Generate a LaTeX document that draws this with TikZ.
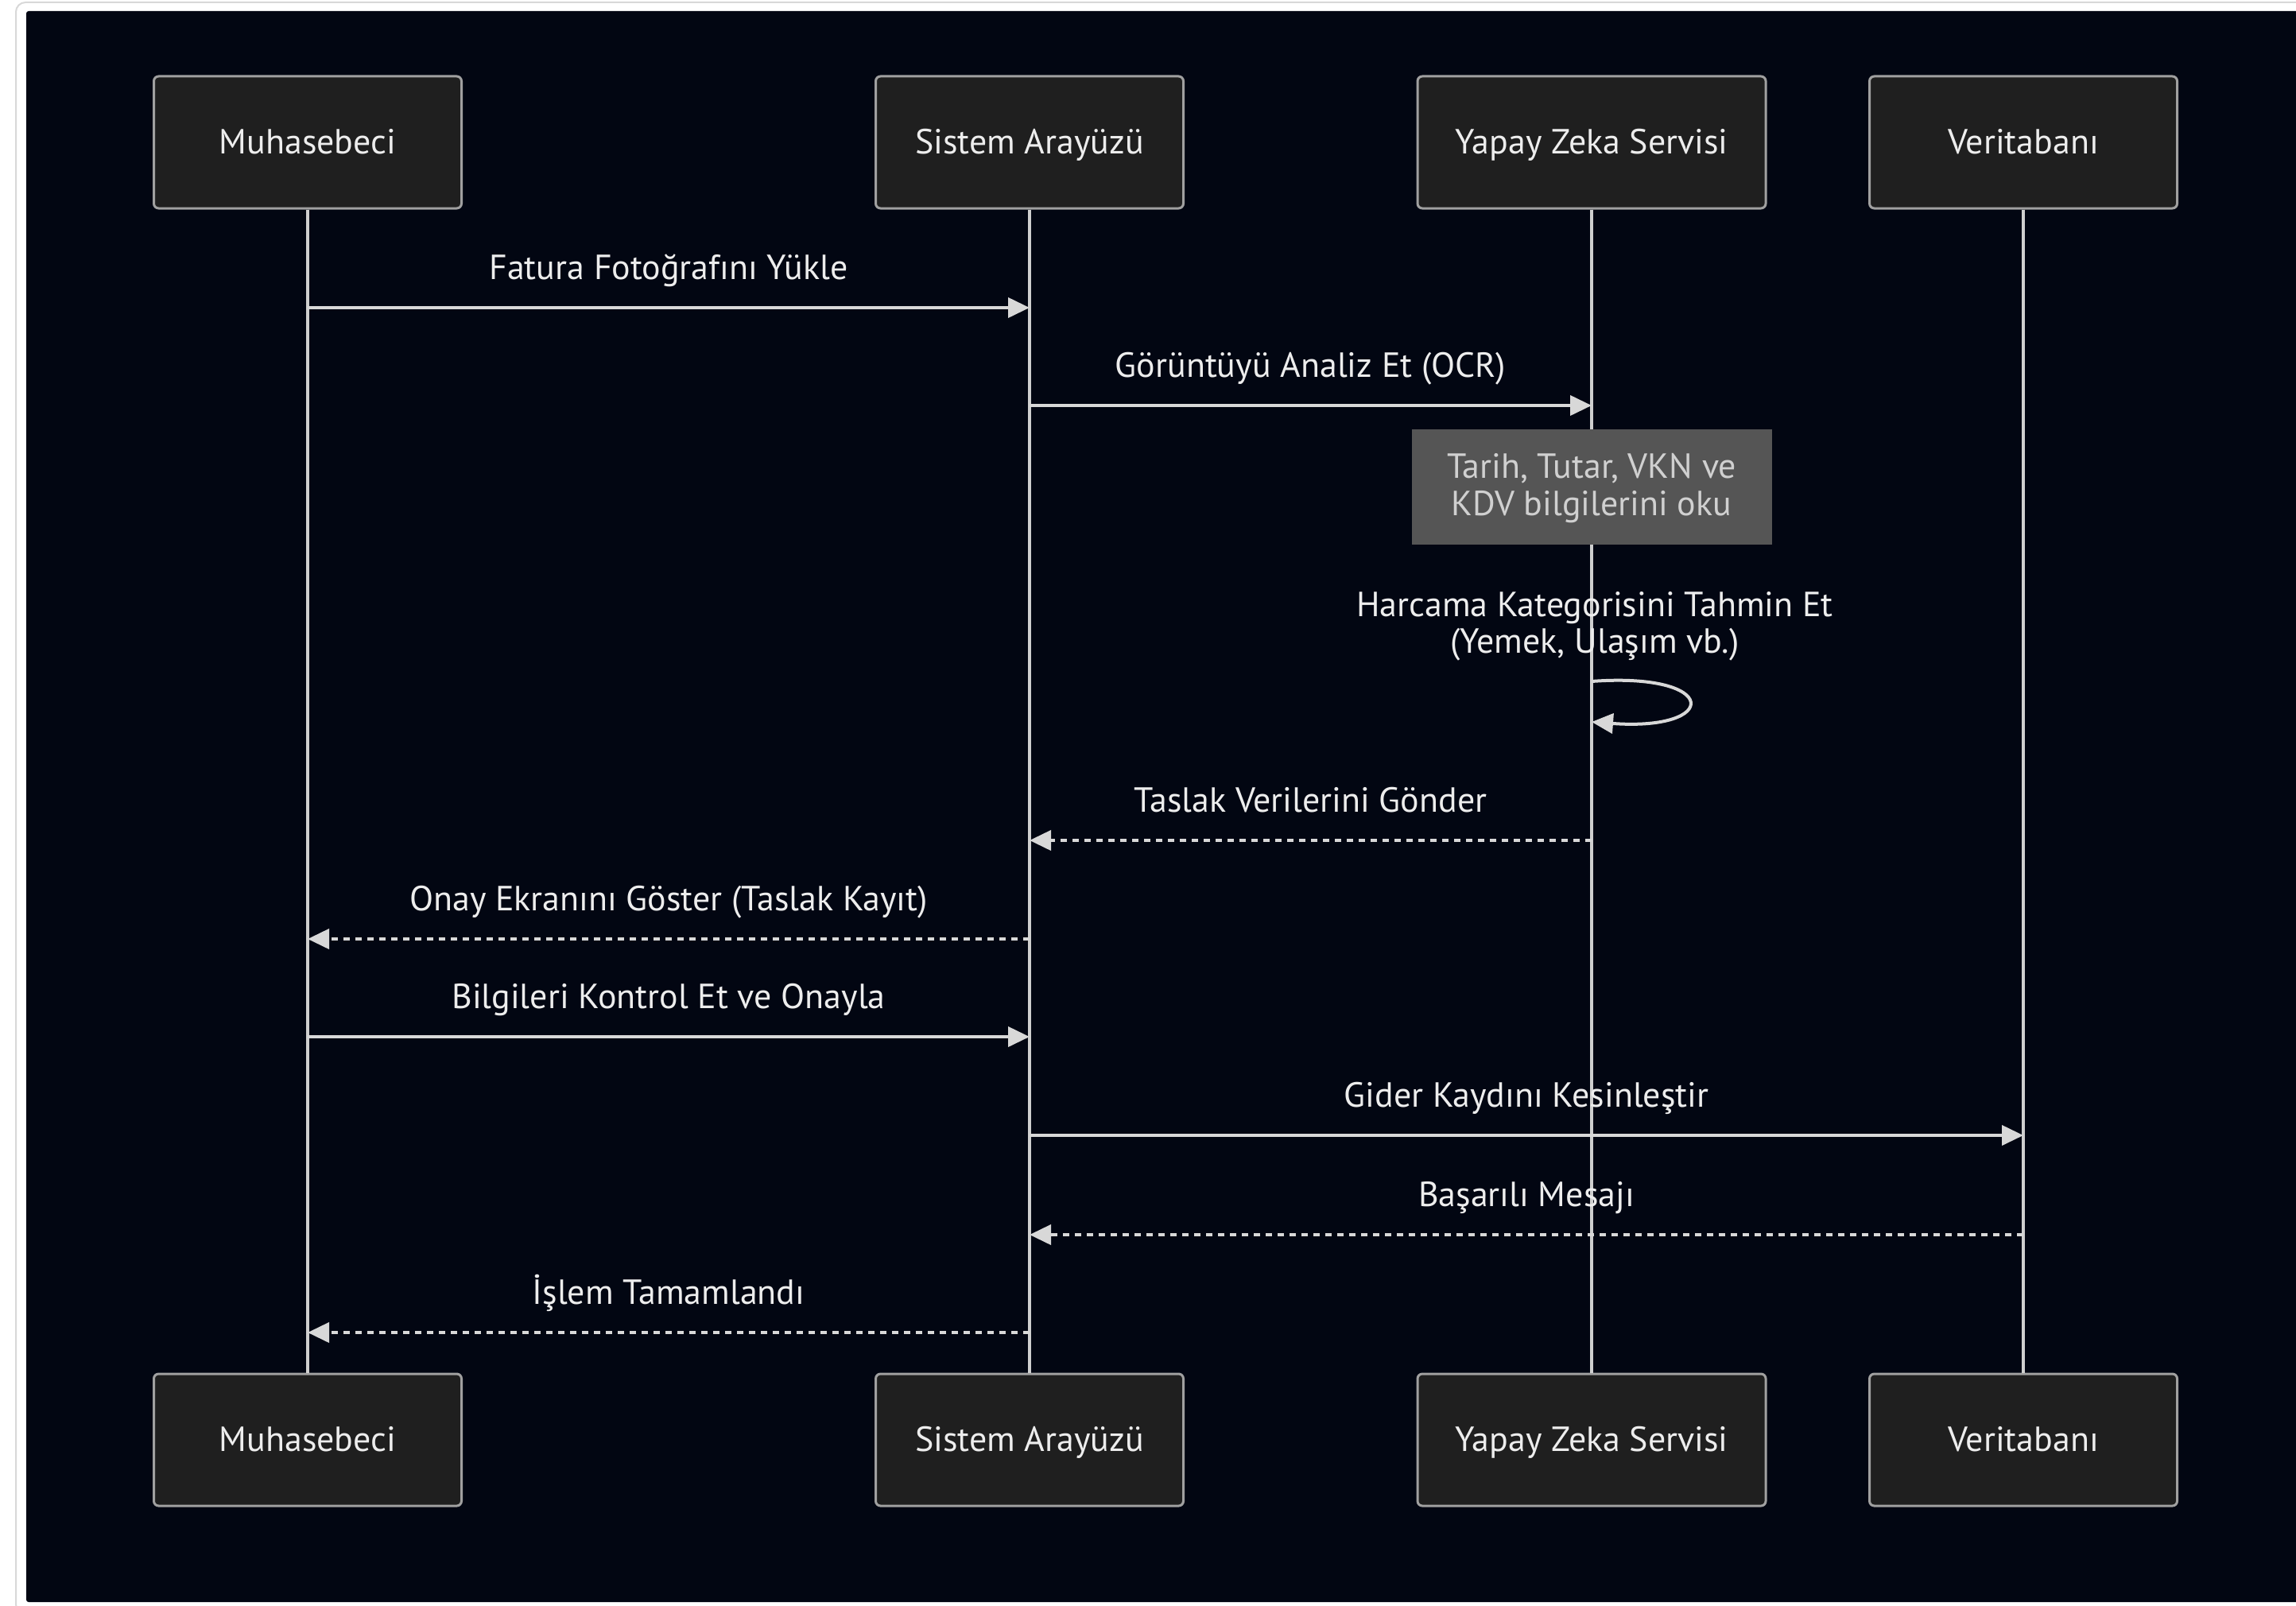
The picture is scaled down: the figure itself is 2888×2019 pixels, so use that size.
\documentclass[tikz,border=0pt]{standalone}
\usepackage{fontspec}
\setmainfont{PT Sans}
\usepackage{xcolor}
\usetikzlibrary{arrows.meta, positioning}

\definecolor{canvas}{HTML}{020612}
\definecolor{frame}{HTML}{D8D8D8}
\definecolor{actorfill}{HTML}{1F1F1F}
\definecolor{actorline}{HTML}{A0A0A0}
\definecolor{lifeline}{HTML}{CFCFCF}
\definecolor{arrowline}{HTML}{D8D8D8}
\definecolor{msgtext}{HTML}{EDEDED}
\definecolor{notefill}{HTML}{555555}
\definecolor{notetext}{HTML}{D0D0D0}

\begin{document}
\begin{tikzpicture}[x=0.1mm, y=-0.1mm, >={Triangle[length=2.7mm, width=2.5mm]},
  every node/.style={font=\fontsize{12.5pt}{13.2pt}\selectfont, text=msgtext},
  actor/.style={draw=actorline, fill=actorfill, line width=0.3mm, rounded corners=0.6mm,
    minimum width=38.7mm, minimum height=16.6mm, text height=3.2mm, text depth=0.4mm},
  life/.style={draw=lifeline, line width=0.35mm},
  msg/.style={->, draw=arrowline, line width=0.4mm},
  reply/.style={msg, dash pattern=on 0.8mm off 0.7mm},
  lbl/.style={anchor=base, yshift=3.6mm}
]
  % Page and dark canvas
  \useasboundingbox (0,0) rectangle (2888,2019);
  \fill[white] (0,0) rectangle (2888,2019);
  \draw[frame, line width=0.2mm, rounded corners=1.2mm] (20,3) rectangle (2950,2030);
  \fill[canvas, rounded corners=0.3mm] (33,14) rectangle (2950,2015);

  % Participants, top row
  \node[actor] (mu) at (387,179) {Muhasebeci};
  \node[actor] (si) at (1295,179) {Sistem Arayüzü};
  \node[actor, minimum width=43.8mm] (ya) at (2002,179) {Yapay Zeka Servisi};
  \node[actor] (ve) at (2545,179) {Veritabanı};

  % Participants, bottom row
  \node[actor] (mub) at (387,1811) {Muhasebeci};
  \node[actor] (sib) at (1295,1811) {Sistem Arayüzü};
  \node[actor, minimum width=43.8mm] (yab) at (2002,1811) {Yapay Zeka Servisi};
  \node[actor] (veb) at (2545,1811) {Veritabanı};

  % Lifelines
  \draw[life] (mu) -- (mub);
  \draw[life] (si) -- (sib);
  \draw[life] (ya) -- (yab);
  \draw[life] (ve) -- (veb);

  % Message rows
  \coordinate (r1) at (0,387);
  \coordinate (r2) at (0,510);
  \coordinate (r3a) at (0,857);
  \coordinate (r3b) at (0,908);
  \coordinate (r4) at (0,1057);
  \coordinate (r5) at (0,1181);
  \coordinate (r6) at (0,1304);
  \coordinate (r7) at (0,1428);
  \coordinate (r8) at (0,1553);
  \coordinate (r9) at (0,1676);

  % Upload and OCR
  \draw[msg] (mu |- r1) -- node[lbl] {Fatura Fotoğrafını Yükle} (si |- r1);
  \draw[msg] (si |- r2) -- node[lbl] {Görüntüyü Analiz Et (OCR)} (ya |- r2);

  % Note over the AI service
  \node[fill=notefill, text=notetext, align=center, minimum width=45.3mm, minimum height=14.5mm]
    (ocrnote) at (2002,612) {\rule{0pt}{3.5mm}Tarih, Tutar, VKN ve\\KDV bilgilerini oku};

  % Self call
  \node[align=center] (guess) at (2006,788) {Harcama Kategorisini Tahmin Et\\(Yemek, Ulaşım vb.)};
  \draw[msg] (ya |- r3a) .. controls +(162,-12) and +(162,12) .. (ya |- r3b);

  % Draft back to the accountant
  \draw[reply] (ya |- r4) -- node[lbl] {Taslak Verilerini Gönder} (si |- r4);
  \draw[reply] (si |- r5) -- node[lbl] {Onay Ekranını Göster (Taslak Kayıt)} (mu |- r5);
  \draw[msg] (mu |- r6) -- node[lbl] {Bilgileri Kontrol Et ve Onayla} (si |- r6);

  % Saving the record
  \draw[msg] (si |- r7) -- node[lbl] {Gider Kaydını Kesinleştir} (ve |- r7);
  \draw[reply] (ve |- r8) -- node[lbl] {Başarılı Mesajı} (si |- r8);
  \draw[reply] (si |- r9) -- node[lbl] {İşlem Tamamlandı} (mu |- r9);
\end{tikzpicture}
\end{document}
